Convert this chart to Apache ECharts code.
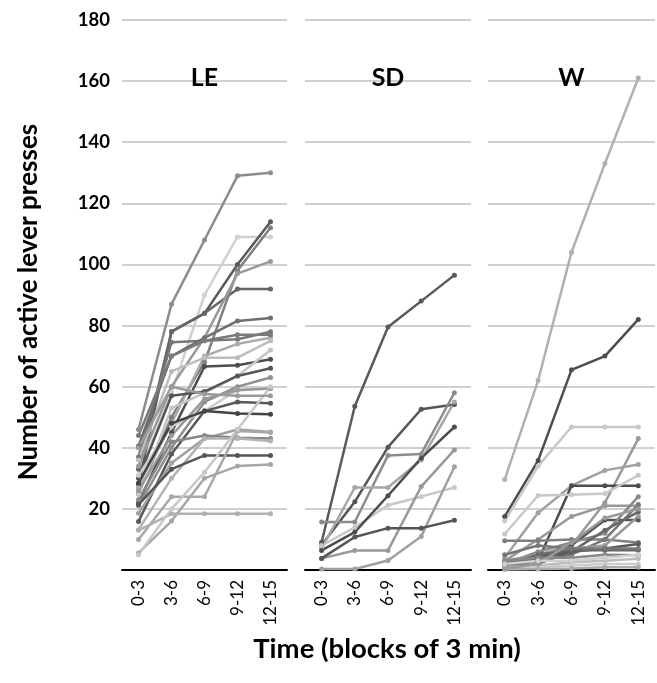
<!DOCTYPE html>
<html><head><meta charset="utf-8">
<script src="https://cdn.jsdelivr.net/npm/echarts@6/dist/echarts.min.js"></script>
<style>html,body{margin:0;padding:0;background:#fff}#c{width:657px;height:683px}</style>
</head><body><div id="c"></div>
<script>
// ---- data ----
const categories = ['0-3', '3-6', '6-9', '9-12', '12-15'];
const panelNames = ['LE', 'SD', 'W'];
const yTickValues = [20, 40, 60, 80, 100, 120, 140, 160, 180];
const yTitle = 'Number of active lever presses';
const xTitle = 'Time (blocks of 3 min)';

const leLines = [
  [46, 87, 108, 129, 130],
  [31, 58, 90, 109, 109],
  [28, 78, 84, 100, 114],
  [33, 78, 84, 92, 92],
  [37, 74.5, 75, 75.5, 78],
  [25, 50, 68, 98, 112],
  [34, 60, 76, 97, 101],
  [40.6, 70, 76, 81.5, 82.5],
  [27, 48, 70, 74, 76],
  [36, 65, 69.5, 69.5, 75],
  [22, 45, 66.6, 67, 69],
  [24.7, 53, 58, 63.5, 72],
  [30, 57, 58.4, 63.5, 66],
  [21, 40, 55, 60, 63],
  [31, 47, 52, 59, 59.4],
  [26, 44, 56, 58.8, 59.4],
  [15.9, 38, 52, 55, 54.6],
  [28.5, 48, 52, 51.2, 51],
  [18.6, 35, 43, 46, 45.2],
  [23, 42, 44, 43.3, 43],
  [13.2, 30, 43, 43, 42.2],
  [21.4, 33, 37.5, 37.5, 37.5],
  [10, 24, 24, 45.5, 45],
  [5.6, 16, 30, 34, 34.5],
  [13, 18.4, 18.4, 18.4, 18.4],
  [5, 20, 32, 46, 60],
  [40, 60, 57.6, 57, 57],
  [44, 70, 75, 77, 77]
];

const sdLines = [
  [9.1, 53.6, 79.5, 88, 96.5],
  [8.2, 22.3, 40.2, 52.6, 54.2],
  [15.7, 15.7, 37.5, 38, 58],
  [7, 27, 27, 36, 55],
  [8, 14, 21.2, 24, 27],
  [3.8, 6.4, 6.4, 27.3, 39.3],
  [0.3, 0.3, 3.1, 11, 33.8],
  [6.4, 12.4, 24.3, 36.6, 46.8],
  [3.8, 10.8, 13.7, 13.7, 16.3]
];

const wLines = [
  [29.6, 62, 104, 133, 161],
  [17.5, 35.8, 65.5, 70, 82],
  [16, 34, 46.8, 46.8, 46.8],
  [2, 5, 8, 22, 43],
  [4, 18.7, 27.6, 32.6, 34.5],
  [1.5, 3, 27.6, 27.6, 27.6],
  [11.8, 24.4, 24.6, 25, 31],
  [3, 10, 17.5, 21, 21],
  [9.6, 9.6, 10, 10, 9],
  [1, 4, 8, 16.4, 16.4],
  [2, 6, 9, 12, 24],
  [1, 3, 5, 10, 21.4],
  [0.5, 2, 6, 13, 19],
  [3, 5, 7, 8, 17.5],
  [2, 4, 6, 7, 8.5],
  [1.5, 5, 6.5, 6.5, 6.5],
  [3, 4, 4, 5, 4.8],
  [1, 1.5, 2.5, 3, 3.7],
  [0.5, 1, 1.5, 2, 2],
  [0.2, 0.3, 0.5, 0.9, 0.9],
  [5, 8, 7, 7, 7],
  [0.5, 2, 9, 17, 20],
  [2, 3, 3, 4, 5]
];

// ---- styles ----
const leColors = ['#8c8c8c','#d0d0d0','#595959','#666666','#777777','#7f7f7f','#999999','#6e6e6e','#aaaaaa','#bdbdbd',
  '#4d4d4d','#c4c4c4','#555555','#8f8f8f','#cccccc','#999999','#595959','#444444','#a0a0a0','#888888',
  '#b3b3b3','#555555','#a8a8a8','#a6a6a6','#b0b0b0','#c8c8c8','#9a9a9a','#7a7a7a'];
const sdColors = ['#595959','#555555','#8c8c8c','#a6a6a6','#c8c8c8','#999999','#a0a0a0','#4d4d4d','#555555'];
const wColors = ['#b0b0b0','#4d4d4d','#c8c8c8','#999999','#a0a0a0','#4d4d4d','#c8c8c8','#999999','#7f7f7f','#555555',
  '#888888','#777777','#666666','#999999','#595959','#666666','#888888','#bbbbbb','#cccccc','#aaaaaa',
  '#777777','#999999','#d0d0d0'];

const FONT = 'Lato';
const grids = [
  {left: 122, top: 20, width: 165, height: 550},
  {left: 305, top: 20, width: 166, height: 550},
  {left: 488, top: 20, width: 167, height: 550}
];

const xAxes = grids.map((g, i) => ({
  type: 'category', gridIndex: i, data: categories, boundaryGap: true,
  axisLine: {show: true, lineStyle: {color: '#000', width: 2}},
  axisTick: {show: false},
  axisLabel: {rotate: 90, fontFamily: FONT, fontSize: 17, color: '#000', margin: 10, interval: 0}
}));
const yAxes = grids.map((g, i) => ({
  type: 'value', gridIndex: i, min: 0, max: 180, interval: 20,
  axisLine: {show: false}, axisTick: {show: false},
  splitLine: {show: true, lineStyle: {color: '#d0d0d0', width: 2}},
  axisLabel: {show: i === 0, fontFamily: FONT, fontWeight: 'bold', fontSize: 18.5, color: '#000', margin: 12,
    formatter: v => yTickValues.indexOf(v) >= 0 ? String(v) : ''}
}));

const series = [];
function addPanel(lines, colors, idx) {
  lines.forEach((vals, k) => {
    series.push({
      type: 'line', xAxisIndex: idx, yAxisIndex: idx, data: vals,
      symbol: 'circle', symbolSize: 5, showSymbol: true,
      lineStyle: {color: colors[k % colors.length], width: 2.5},
      itemStyle: {color: colors[k % colors.length]},
      emphasis: {disabled: true}, animation: false
    });
  });
}
addPanel(leLines, leColors, 0);
addPanel(sdLines, sdColors, 1);
addPanel(wLines, wColors, 2);

const graphic = [];
panelNames.forEach((n, i) => {
  graphic.push({type: 'text', x: grids[i].left + grids[i].width / 2, y: 78,
    style: {text: n, font: 'bold 25px ' + FONT, fill: '#000', align: 'center', verticalAlign: 'middle'}, z: 100});
});
graphic.push({type: 'text', x: 29, y: 302, rotation: Math.PI / 2,
  style: {text: yTitle, font: 'bold 26px ' + FONT, fill: '#000', align: 'center', verticalAlign: 'middle'}, z: 100});
graphic.push({type: 'text', x: 387, y: 649,
  style: {text: xTitle, font: 'bold 27.5px ' + FONT, fill: '#000', align: 'center', verticalAlign: 'middle'}, z: 100});

const chart = echarts.init(document.getElementById('c'));
chart.setOption({
  animation: false,
  backgroundColor: '#fff',
  grid: grids,
  xAxis: xAxes,
  yAxis: yAxes,
  series: series,
  graphic: graphic
});
</script></body></html>
